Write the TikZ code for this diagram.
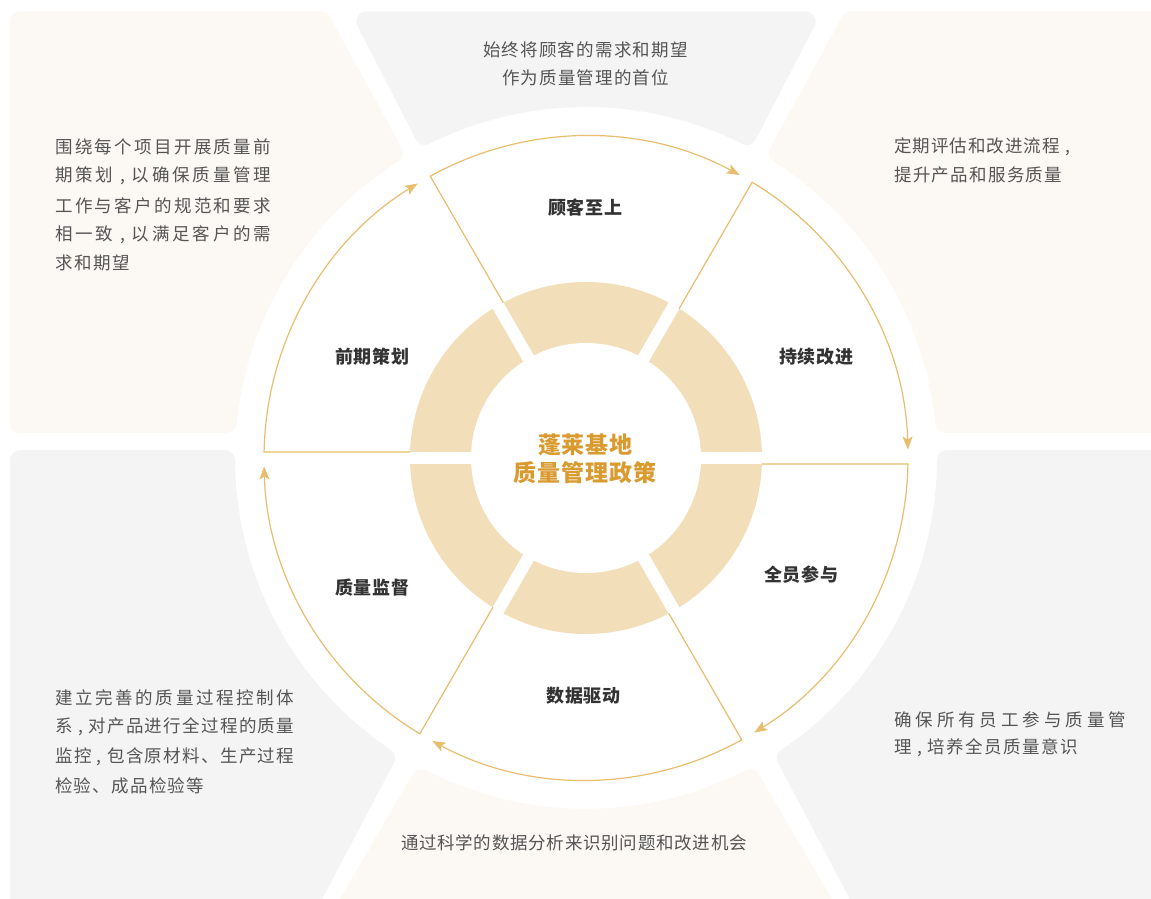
\documentclass[tikz,border=0pt]{standalone}
\usepackage{fontspec}
\setmainfont{Noto Sans CJK SC}
\usetikzlibrary{arrows.meta,calc}
\definecolor{cCream}{HTML}{FCF9F4}
\definecolor{cGray}{HTML}{F4F4F4}
\definecolor{cGold}{HTML}{E8BE6E}
\definecolor{cDonut}{HTML}{F2DFBA}
\definecolor{cTitle}{HTML}{D99B30}
\definecolor{cLabel}{HTML}{333333}
\definecolor{cDesc}{HTML}{555555}
% spread the characters of #2 evenly over width #1
\def\jst#1#2{\hbox to #1{\jstfirst#2\jstend}}
\def\jstfirst#1{#1\jstaux}
\def\jstaux#1{\ifx#1\jstend\else\hfil#1\expandafter\jstaux\fi}
\let\jstend\relax
\def\cm{\hbox to 0.75em{\hss,\hss}}
\tikzset{
  creampanel/.style={fill=cCream, draw=cCream, line width=20pt, line join=round},
  graypanel/.style={fill=cGray, draw=cGray, line width=20pt, line join=round},
  sectorline/.style={draw=cGold, line width=1.2pt, -{Stealth[length=13pt,width=10pt,inset=3pt]}},
  labeltext/.style={inner sep=0pt, anchor=center, text=cLabel, font=\fontsize{18}{20}\selectfont\bfseries},
  titletext/.style={inner sep=0pt, anchor=center, text=cTitle, font=\fontsize{23}{26}\selectfont\bfseries},
  desctext/.style={inner sep=0pt, anchor=west, text=cDesc, font=\fontsize{17.5}{20}\selectfont},
  descmid/.style={desctext, anchor=center}
}
\begin{document}
\begin{tikzpicture}[x=1pt,y=1pt]
\useasboundingbox (0,0) rectangle (1151,-899);
\clip (0,0) rectangle (1151,-899);
\fill[white] (0,0) rectangle (1151,-899);
\coordinate (O) at (586,-458);
% ---- outer panels (eroded shapes, widened again by a round-joined stroke) ----
% upper left
\path[creampanel] (20,-21.5) -- (321.1,-21.5) -- (393.1,-152.9)
  arc[start angle=122.3, end angle=174.4, radius=361] -- (20,-423) -- cycle;
% top
\path[graypanel] (366.5,-21.5) -- (805.5,-21.5) -- (746.9,-134.9)
  arc[start angle=63.5, end angle=116.5, radius=361] -- cycle;
% upper right
\path[creampanel] (1175,-21.5) -- (850.9,-21.5) -- (778.9,-152.9)
  arc[start angle=57.7, end angle=5.6, radius=361] -- (1175,-423) -- cycle;
% lower left
\path[graypanel] (20,-460) -- (225,-460)
  arc[start angle=180.3, end angle=236.2, radius=361] -- (298.6,-922) -- (20,-922) -- cycle;
% lower right
\path[graypanel] (1175,-460) -- (947,-460)
  arc[start angle=-0.3, end angle=-56.2, radius=361] -- (873.4,-922) -- (1175,-922) -- cycle;
% bottom
\path[creampanel] (421.3,-779.2)
  arc[start angle=242.9, end angle=297.1, radius=361] -- (833.7,-922) -- (338.3,-922) -- cycle;
% ---- wheel ----
\begin{scope}[shift={(O)}]
  \fill[cDonut] (0,0) circle[radius=176];
  \fill[white] (0,0) circle[radius=115];
  \foreach \a in {0,60,120}
    \draw[white, line width=12.3pt] (\a:180) -- ({\a+180}:180);
  \foreach \s/\n in {180/a,120/b,60/c,0/d,-60/e,-120/f} {
    \coordinate (in\n) at ({\s-1.95}:176);
    \coordinate (out\n) at ({\s-1.07}:322);
    \draw[sectorline] (in\n) -- (out\n) arc[start angle={\s-1.07}, end angle={\s-58.5}, radius=322];
  }
\end{scope}
% ---- centre title ----
\node[titletext] (t1) at (585.5,-445) {\jst{95pt}{蓬莱基地}};
\node[titletext] (t2) at (585,-473) {\jst{144pt}{质量管理政策}};
% ---- sector labels ----
\node[labeltext] (l1) at (585,-208) {\jst{74pt}{顾客至上}};
\node[labeltext] (l2) at (816,-357) {\jst{74pt}{持续改进}};
\node[labeltext] (l3) at (801,-575) {\jst{74pt}{全员参与}};
\node[labeltext] (l4) at (583.5,-696) {\jst{74pt}{数据驱动}};
\node[labeltext] (l5) at (372,-588) {\jst{74pt}{质量监督}};
\node[labeltext] (l6) at (372,-357) {\jst{74pt}{前期策划}};
% ---- panel texts ----
\node[descmid] (top1) at (585.5,-50) {\jst{205pt}{始终将顾客的需求和期望}};
\node[descmid] (top2) at (585.5,-78) {\jst{167pt}{作为质量管理的首位}};
\node[desctext] (ul1) at (55,-147) {\jst{216pt}{围绕每个项目开展质量前}};
\node[desctext] (ul2) at (55,-176) {\jst{216pt}{期策划{\cm}以确保质量管理}};
\node[desctext] (ul3) at (55,-206) {\jst{216pt}{工作与客户的规范和要求}};
\node[desctext] (ul4) at (55,-235) {\jst{216pt}{相一致{\cm}以满足客户的需}};
\node[desctext] (ul5) at (55,-263) {\jst{75pt}{求和期望}};
\node[desctext] (ur1) at (894,-147) {\jst{180pt}{定期评估和改进流程{\cm}}};
\node[desctext] (ur2) at (894,-175) {\jst{168pt}{提升产品和服务质量}};
\node[desctext] (ll1) at (55,-698) {\jst{239pt}{建立完善的质量过程控制体}};
\node[desctext] (ll2) at (55,-727) {\jst{239pt}{系{\cm}对产品进行全过程的质量}};
\node[desctext] (ll3) at (55,-757) {\jst{239pt}{监控{\cm}包含原材料、生产过程}};
\node[desctext] (ll4) at (55,-786) {\jst{149pt}{检验、成品检验等}};
\node[desctext] (lr1) at (894,-720) {\jst{232pt}{确保所有员工参与质量管}};
\node[desctext] (lr2) at (894,-748) {\jst{184pt}{理{\cm}培养全员质量意识}};
\node[descmid] (bt1) at (574,-843) {\jst{346pt}{通过科学的数据分析来识别问题和改进机会}};
\end{tikzpicture}
\end{document}
